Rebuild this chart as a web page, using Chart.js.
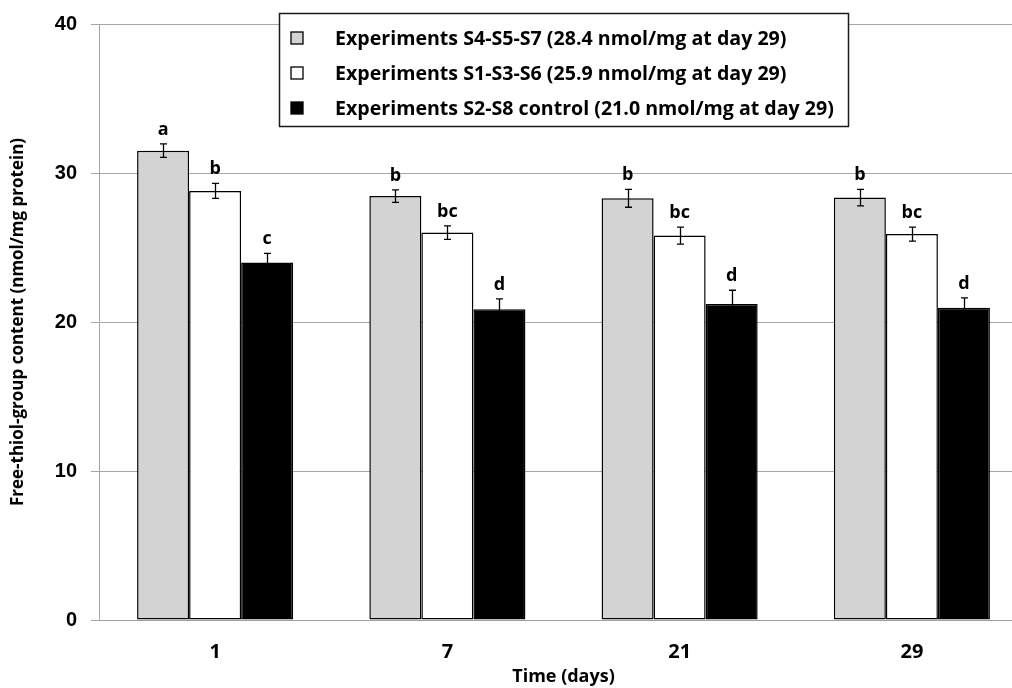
<!DOCTYPE html>
<html><head><meta charset="utf-8">
<script src="https://cdn.jsdelivr.net/npm/chart.js@4/dist/chart.umd.min.js"></script>
<style>html,body{margin:0;padding:0;overflow:hidden;background:#fff;width:1012px;height:688px}canvas{display:block}</style>
</head><body><canvas id="c" width="1040" height="688"></canvas>
<script>
const categories = ['1', '7', '21', '29'];
const seriesLabels = [
  'Experiments S4-S5-S7 (28.4 nmol/mg at day 29)',
  'Experiments S1-S3-S6 (25.9 nmol/mg at day 29)',
  'Experiments S2-S8 control (21.0 nmol/mg at day 29)'
];
const valuesS4S5S7 = [31.5, 28.45, 28.3, 28.35];
const valuesS1S3S6 = [28.8, 26.0, 25.8, 25.9];
const valuesControl = [24.0, 20.85, 21.2, 20.95];
const errS4S5S7 = [0.45, 0.42, 0.6, 0.55];
const errS1S3S6 = [0.5, 0.45, 0.57, 0.47];
const errControl = [0.6, 0.7, 0.93, 0.67];
const lettersS4S5S7 = ['a', 'b', 'b', 'b'];
const lettersS1S3S6 = ['b', 'bc', 'bc', 'bc'];
const lettersControl = ['c', 'd', 'd', 'd'];
const yTicks = [0, 10, 20, 30, 40];
const xTitle = 'Time (days)';
const yTitle = 'Free-thiol-group content (nmol/mg protein)';

const fills = ['#d3d3d3', '#ffffff', '#000000'];
const allErr = [errS4S5S7, errS1S3S6, errControl];
const allLetters = [lettersS4S5S7, lettersS1S3S6, lettersControl];
const allValues = [valuesS4S5S7, valuesS1S3S6, valuesControl];

const errorPlugin = {
  id: 'errs',
  afterDatasetsDraw(chart) {
    const ctx = chart.ctx, y = chart.scales.y;
    ctx.save();
    chart.data.datasets.forEach((ds, i) => {
      const meta = chart.getDatasetMeta(i);
      meta.data.forEach((bar, j) => {
        const v = ds.data[j], e = allErr[i][j];
        const yt = y.getPixelForValue(v + e), yb = y.getPixelForValue(v - e);
        const x = Math.round(bar.x) + 0.5;
        ctx.strokeStyle = '#000'; ctx.lineWidth = 1.3;
        ctx.beginPath();
        ctx.moveTo(x, yt); ctx.lineTo(x, yb);
        ctx.moveTo(x - 3.5, yt); ctx.lineTo(x + 3.5, yt);
        ctx.moveTo(x - 3.5, yb); ctx.lineTo(x + 3.5, yb);
        ctx.stroke();
        ctx.fillStyle = '#000';
        ctx.font = 'bold 18px "Open Sans"';
        ctx.textAlign = 'center'; ctx.textBaseline = 'alphabetic';
        ctx.fillText(allLetters[i][j], bar.x, yt - 9);
      });
    });
    ctx.restore();
  }
};

const legendPlugin = {
  id: 'boxLegend',
  afterDraw(chart) {
    const ctx = chart.ctx;
    const L = 279, T = 13, W = 569, H = 113;
    ctx.save();
    ctx.fillStyle = '#fff';
    ctx.fillRect(L, T, W, H);
    ctx.strokeStyle = '#1a1a1a'; ctx.lineWidth = 1.5;
    ctx.strokeRect(L + 0.5, T + 0.5, W, H);
    chart.data.datasets.forEach((ds, i) => {
      const cy = T + 25 + i * 35;
      ctx.fillStyle = ds.backgroundColor;
      ctx.fillRect(291, cy - 6, 12, 12);
      ctx.strokeStyle = '#000'; ctx.lineWidth = 1.3;
      ctx.strokeRect(291, cy - 6, 12, 12);
      ctx.fillStyle = '#000';
      ctx.font = 'bold 19.6px "Open Sans"';
      ctx.textAlign = 'left'; ctx.textBaseline = 'middle';
      ctx.fillText(ds.label, 335, cy + 1);
    });
    ctx.restore();
  }
};

new Chart(document.getElementById('c'), {
  type: 'bar',
  data: {
    labels: categories,
    datasets: allValues.map((vals, i) => ({
      label: seriesLabels[i],
      data: vals,
      backgroundColor: fills[i],
      borderColor: '#000',
      borderWidth: 1.5,
      borderSkipped: false,
      categoryPercentage: 0.672,
      barPercentage: 1.0
    }))
  },
  options: {
    responsive: false,
    animation: false,
    devicePixelRatio: 1,
    layout: { padding: { left: 0, right: 12, top: 23, bottom: 0 } },
    plugins: { legend: { display: false }, tooltip: { enabled: false } },
    scales: {
      x: {
        grid: { display: false },
        border: { display: true, color: '#a0a0a0', width: 1 },
        ticks: { color: '#000', font: { family: 'Open Sans', weight: 'bold', size: 20 }, padding: 12 },
        title: { display: true, text: xTitle, color: '#000', font: { family: 'Open Sans', weight: 'bold', size: 18 }, padding: { top: 0, bottom: 0 } },
        afterFit(s) { s.height = 68; }
      },
      y: {
        min: 0, max: 40,
        afterBuildTicks(s) { s.ticks = yTicks.map(v => ({ value: v })); },
        grid: { color: '#a6a6a6', lineWidth: 1, tickLength: 8, drawTicks: true },
        border: { display: true, color: '#a6a6a6', width: 1 },
        ticks: { color: '#000', font: { family: 'Liberation Sans', weight: 'bold', size: 20, lineHeight: 1 }, padding: 14 },
        title: { display: true, text: yTitle, color: '#000', font: { family: 'Open Sans', weight: 'bold', size: 17 }, padding: { top: 8, bottom: 0 } },
        afterFit(s) { s.width = 99; }
      }
    }
  },
  plugins: [errorPlugin, legendPlugin]
});
</script>
</body></html>
